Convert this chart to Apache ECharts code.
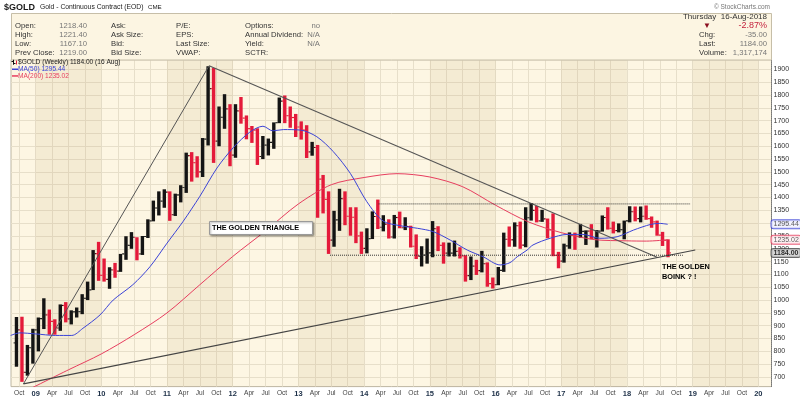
<!DOCTYPE html>
<html>
<head>
<meta charset="utf-8">
<script src="https://cdn.jsdelivr.net/npm/echarts@6.0.0/dist/echarts.min.js"></script>
<style>
html,body{margin:0;padding:0;background:#ffffff;}
#chart{width:800px;height:399px;}
</style>
</head>
<body>
<div id="chart"></div>
<script>
// ---------- DATA ----------
const months = [
 '2008-09','2008-10','2008-11','2008-12',
 '2009-01','2009-02','2009-03','2009-04','2009-05','2009-06','2009-07','2009-08','2009-09','2009-10','2009-11','2009-12',
 '2010-01','2010-02','2010-03','2010-04','2010-05','2010-06','2010-07','2010-08','2010-09','2010-10','2010-11','2010-12',
 '2011-01','2011-02','2011-03','2011-04','2011-05','2011-06','2011-07','2011-08','2011-09','2011-10','2011-11','2011-12',
 '2012-01','2012-02','2012-03','2012-04','2012-05','2012-06','2012-07','2012-08','2012-09','2012-10','2012-11','2012-12',
 '2013-01','2013-02','2013-03','2013-04','2013-05','2013-06','2013-07','2013-08','2013-09','2013-10','2013-11','2013-12',
 '2014-01','2014-02','2014-03','2014-04','2014-05','2014-06','2014-07','2014-08','2014-09','2014-10','2014-11','2014-12',
 '2015-01','2015-02','2015-03','2015-04','2015-05','2015-06','2015-07','2015-08','2015-09','2015-10','2015-11','2015-12',
 '2016-01','2016-02','2016-03','2016-04','2016-05','2016-06','2016-07','2016-08','2016-09','2016-10','2016-11','2016-12',
 '2017-01','2017-02','2017-03','2017-04','2017-05','2017-06','2017-07','2017-08','2017-09','2017-10','2017-11','2017-12',
 '2018-01','2018-02','2018-03','2018-04','2018-05','2018-06','2018-07','2018-08'
];
const opens = [
 833,884,718,814,
 884,928,942,917,891,979,927,954,955,1007,1040,1181,
 1096,1081,1118,1113,1180,1213,1245,1180,1248,1309,1359,1386,
 1421,1333,1410,1439,1563,1536,1500,1628,1825,1620,1713,1746,
 1565,1738,1710,1669,1663,1560,1604,1615,1692,1776,1719,1712,
 1675,1663,1578,1595,1472,1393,1234,1313,1396,1327,1323,1250,
 1202,1240,1326,1284,1296,1246,1322,1282,1287,1210,1171,1175,
 1184,1279,1213,1183,1183,1190,1172,1095,1132,1115,1142,1064,
 1060,1116,1237,1235,1290,1214,1321,1350,1309,1317,1274,1174,
 1152,1211,1253,1249,1268,1269,1242,1269,1322,1280,1271,1275,
 1309,1345,1318,1327,1318,1305,1253,1233
];
const highs = [
 934,935,825,888,
 932,1007,963,925,983,992,960,971,1023,1072,1195,1227,
 1162,1128,1145,1180,1249,1265,1245,1250,1315,1388,1424,1432,
 1424,1415,1448,1575,1577,1561,1632,1912,1905,1755,1803,1764,
 1764,1792,1720,1679,1670,1640,1630,1693,1790,1798,1755,1726,
 1697,1682,1617,1605,1488,1424,1348,1434,1424,1362,1362,1267,
 1280,1346,1392,1331,1315,1332,1345,1323,1290,1256,1210,1240,
 1308,1288,1225,1224,1232,1206,1175,1170,1157,1192,1147,1088,
 1129,1263,1287,1303,1306,1362,1378,1367,1352,1318,1338,1188,
 1220,1264,1263,1297,1272,1296,1273,1330,1362,1306,1299,1310,
 1366,1365,1365,1369,1326,1310,1266,1237
];
const lows = [
 740,681,705,752,
 800,887,865,865,880,913,905,932,945,1000,1039,1075,
 1072,1044,1087,1110,1157,1200,1155,1176,1242,1307,1330,1360,
 1309,1328,1381,1418,1462,1478,1480,1603,1535,1600,1668,1522,
 1555,1688,1627,1613,1527,1550,1564,1590,1690,1690,1672,1636,
 1626,1554,1563,1321,1338,1180,1208,1270,1292,1251,1222,1180,
 1182,1238,1277,1268,1240,1240,1280,1273,1205,1160,1131,1142,
 1167,1191,1142,1170,1170,1162,1072,1078,1098,1108,1052,1045,
 1058,1110,1208,1208,1200,1206,1310,1303,1305,1241,1171,1124,
 1146,1200,1196,1243,1215,1237,1205,1267,1275,1260,1264,1237,
 1303,1307,1303,1313,1282,1251,1211,1167
];
const closes = [
 884,718,814,884,
 928,942,917,891,979,927,954,955,1007,1040,1181,1096,
 1081,1118,1113,1180,1213,1245,1180,1248,1309,1359,1386,1421,
 1333,1410,1439,1563,1536,1500,1628,1825,1620,1713,1746,1565,
 1738,1710,1669,1663,1560,1604,1615,1692,1776,1719,1712,1675,
 1663,1578,1595,1472,1393,1234,1313,1396,1327,1323,1250,1202,
 1240,1326,1284,1296,1246,1322,1282,1287,1210,1171,1175,1184,
 1279,1213,1183,1183,1190,1172,1095,1132,1115,1142,1064,1060,
 1116,1237,1235,1290,1214,1321,1350,1309,1317,1274,1174,1152,
 1211,1253,1249,1268,1269,1242,1269,1322,1280,1271,1275,1309,
 1345,1318,1327,1318,1305,1253,1233,1184
];
// moving averages (decimal year, value)
const ma50Time = [2008.62,2008.76,2009.0,2009.3,2009.55,2009.72,2009.98,2010.18,2010.48,2010.74,2011.0,2011.24,2011.5,2011.76,2012.01,2012.26,2012.46,2012.61,2012.77,2013.03,2013.28,2013.53,2013.79,2014.04,2014.29,2014.55,2014.81,2015.05,2015.31,2015.57,2015.81,2016.07,2016.22,2016.33,2016.48,2016.57,2016.83,2017.09,2017.33,2017.59,2017.85,2018.1,2018.36,2018.5,2018.62];
const ma50Values = [862,872,868,862,862,890,942,1000,1060,1130,1222,1305,1405,1515,1595,1655,1678,1660,1665,1663,1637,1579,1494,1384,1308,1290,1280,1267,1234,1195,1169,1137,1146,1169,1195,1215,1241,1256,1256,1241,1247,1273,1295,1299,1295.44];
const ma200Time = [2008.94,2009.5,2010.0,2010.5,2011.0,2011.5,2012.0,2012.5,2013.0,2013.5,2014.0,2014.5,2015.0,2015.5,2016.0,2016.5,2017.0,2017.5,2018.0,2018.3,2018.62];
const ma200Values = [657,728,790,865,950,1060,1170,1270,1375,1450,1478,1493,1480,1442,1370,1305,1263,1236,1231,1230,1235.02];
// drawn trend lines and support/resistance levels
const triangleLeft  = [[2008.814, 673], [2011.64, 1914]];
const triangleTop   = [[2011.64, 1914], [2018.458, 1167]];
const triangleBase  = [[2008.814, 673], [2019.04, 1195]];
const resistance    = [[2014.22, 1375], [2018.97, 1375]];
const support       = [[2013.48, 1175], [2018.85, 1175]];
const shadedYears = [2009, 2011, 2013, 2015, 2017, 2019];
const monthLabels = ['', 'Apr', 'Jul', 'Oct'];

// ---------- CHART ----------
const FONT = '"Liberation Sans", Arial, Helvetica, sans-serif';
const chart = echarts.init(document.getElementById('chart'), null, {renderer: 'canvas', width: 800, height: 399});

function toT(m) { const p = m.split('-').map(Number); return p[0] + (p[1] - 0.5) / 12; }
const priceData = months.map((m, i) => [
  toT(m), opens[i], highs[i], lows[i], closes[i],
  (i === 0 ? closes[0] >= opens[0] : closes[i] >= closes[i - 1]) ? 1 : 0
]);
const lastClose = closes[closes.length - 1];
const lastMa50 = ma50Values[ma50Values.length - 1];
const lastMa200 = ma200Values[ma200Values.length - 1];

const UP = '#141414', DOWN = '#e41a3a';
function renderBar(params, api) {
  const t = api.value(0);
  const o = api.coord([t, api.value(1)]);
  const h = api.coord([t, api.value(2)]);
  const l = api.coord([t, api.value(3)]);
  const c = api.coord([t, api.value(4)]);
  const col = api.value(5) ? UP : DOWN;
  return {
    type: 'group',
    children: [
      {type: 'rect', shape: {x: h[0] - 1.7, y: h[1], width: 3.4, height: Math.max(1, l[1] - h[1])}, style: {fill: col}},
      {type: 'rect', shape: {x: o[0] - 2.8, y: o[0] ? o[1] - 0.6 : 0, width: 1.1, height: 1.2}, style: {fill: col}},
      {type: 'rect', shape: {x: c[0] + 1.7, y: c[1] - 0.6, width: 1.1, height: 1.2}, style: {fill: col}}
    ]
  };
}

function xLabel(v) {
  const e = Math.round(v * 8);
  if (Math.abs(v * 8 - e) > 1e-4 || e % 2 !== 0) return '';
  const Q = e / 2;
  const q = ((Q % 4) + 4) % 4;
  if (q === 0) { const yr = Math.floor(Q / 4) % 100; return '{y|' + (yr < 10 ? '0' : '') + yr + '}'; }
  return '{m|' + monthLabels[q] + '}';
}
function yLabel(v) {
  const r = Math.round(v);
  if (Math.abs(v - r) > 1e-6 || r % 50 !== 0 || r < 700 || r > 1900) return '';
  return String(r);
}

const GRID = '#e7dfca';
const T = 'rgba(0,0,0,0)';
const BLUE = '#3b43d6', RED = '#e63d5e';

function txt(x, y, text, opt) {
  opt = opt || {};
  return {
    type: 'text', x: x, y: y, z: 100, silent: true,
    style: {
      text: text, fill: opt.fill || '#333333', align: opt.align || 'left', verticalAlign: 'middle',
      font: (opt.weight || 'normal') + ' ' + (opt.size || 7.7) + 'px ' + FONT
    }
  };
}

const rows = [25.6, 34.6, 43.9, 53.0];
const graphics = [
  txt(4, 7.5, '$GOLD', {weight: 'bold', size: 9, fill: '#1a1a1a'}),
  txt(40, 7.5, 'Gold - Continuous Contract (EOD)', {size: 6.8, fill: '#222'}),
  txt(148, 7.5, 'CME', {size: 6.2, fill: '#222'}),
  txt(770, 7, '\u00a9 StockCharts.com', {align: 'right', size: 6.5, fill: '#777'}),
  {type: 'rect', z: 90, silent: true, shape: {x: 11.5, y: 13.5, width: 760, height: 46.5},
   style: {fill: '#fcf5e2', stroke: '#c6bea8', lineWidth: 1}},
  // column 1
  txt(15, rows[0], 'Open:'), txt(15, rows[1], 'High:'), txt(15, rows[2], 'Low:'), txt(15, rows[3], 'Prev Close:'),
  txt(87, rows[0], '1218.40', {align: 'right', fill: '#777'}),
  txt(87, rows[1], '1221.40', {align: 'right', fill: '#777'}),
  txt(87, rows[2], '1167.10', {align: 'right', fill: '#777'}),
  txt(87, rows[3], '1219.00', {align: 'right', fill: '#777'}),
  // column 2
  txt(111, rows[0], 'Ask:'), txt(111, rows[1], 'Ask Size:'), txt(111, rows[2], 'Bid:'), txt(111, rows[3], 'Bid Size:'),
  // column 3
  txt(176, rows[0], 'P/E:'), txt(176, rows[1], 'EPS:'), txt(176, rows[2], 'Last Size:'), txt(176, rows[3], 'VWAP:'),
  // column 4
  txt(245, rows[0], 'Options:'), txt(245, rows[1], 'Annual Dividend:'), txt(245, rows[2], 'Yield:'), txt(245, rows[3], 'SCTR:'),
  txt(320, rows[0], 'no', {align: 'right', fill: '#777'}),
  txt(320, rows[1], 'N/A', {align: 'right', fill: '#777'}),
  txt(320, rows[2], 'N/A', {align: 'right', fill: '#777'}),
  // right block
  txt(767, 16.6, 'Thursday  16-Aug-2018', {align: 'right', size: 8}),
  txt(703, 25.8, '\u25bc', {size: 8, fill: '#8b1020'}),
  txt(767, 25.8, '-2.87%', {align: 'right', size: 9, fill: '#c41f3b'}),
  txt(699, rows[1], 'Chg:'), txt(767, rows[1], '-35.00', {align: 'right', fill: '#777'}),
  txt(699, rows[2], 'Last:'), txt(767, rows[2], '1184.00', {align: 'right', fill: '#777'}),
  txt(699, rows[3], 'Volume:'), txt(767, rows[3], '1,317,174', {align: 'right', fill: '#777'}),
  // in-plot legend
  {type: 'rect', z: 100, silent: true, shape: {x: 13, y: 59.8, width: 1, height: 5}, style: {fill: '#111'}},
  {type: 'rect', z: 100, silent: true, shape: {x: 11.5, y: 61, width: 1.5, height: 1}, style: {fill: '#111'}},
  {type: 'rect', z: 100, silent: true, shape: {x: 14, y: 63, width: 1.5, height: 1}, style: {fill: '#111'}},
  {type: 'rect', z: 100, silent: true, shape: {x: 16, y: 60.5, width: 1, height: 4}, style: {fill: DOWN}},
  txt(18, 62.6, '$GOLD (Weekly) ' + lastClose.toFixed(2) + ' (16 Aug)', {size: 6.6, fill: '#222'}),
  {type: 'rect', z: 100, silent: true, shape: {x: 12, y: 68.5, width: 6, height: 1.5}, style: {fill: BLUE}},
  txt(18, 69.3, 'MA(50) ' + lastMa50.toFixed(2), {size: 6.6, fill: BLUE}),
  {type: 'rect', z: 100, silent: true, shape: {x: 12, y: 75.2, width: 6, height: 1.5}, style: {fill: RED}},
  txt(18, 76, 'MA(200) ' + lastMa200.toFixed(2), {size: 6.6, fill: RED}),
  // annotations
  {type: 'rect', z: 100, silent: true, shape: {x: 209.5, y: 221.5, width: 103, height: 13},
   style: {fill: '#ffffff', stroke: '#9a9a9a', lineWidth: 1, shadowBlur: 2, shadowOffsetX: 1, shadowOffsetY: 1, shadowColor: 'rgba(0,0,0,0.35)'}},
  txt(212, 228.2, 'THE GOLDEN TRIANGLE', {weight: 'bold', size: 7.3, fill: '#000'}),
  txt(662, 266.6, 'THE GOLDEN', {weight: 'bold', size: 7.3, fill: '#000'}),
  txt(662, 276.8, 'BOINK ? !', {weight: 'bold', size: 7.3, fill: '#000'})
];

function lineSeries(data, color, type, width) {
  return {
    type: 'line', data: data, showSymbol: false, symbol: 'none', silent: true, z: 4,
    lineStyle: {color: color, width: width || 1, type: type || 'solid'}, animation: false
  };
}
function tagSeries(value, style) {
  return {
    type: 'scatter', data: [[2020.2, value]], symbolSize: 0, silent: true, z: 20, clip: false,
    label: Object.assign({
      show: true, position: 'right', distance: 0, fontSize: 7, fontFamily: FONT,
      formatter: (p) => p.value[1].toFixed(2), padding: [1, 2, 0, 2], borderWidth: 1, borderRadius: 2
    }, style)
  };
}

const option = {
  animation: false,
  backgroundColor: '#ffffff',
  textStyle: {fontFamily: FONT},
  grid: {
    left: 11, right: 28.5, top: 59.7, bottom: 12.4, containLabel: false, outerBoundsMode: 'none',
    show: true, backgroundColor: '#fdf6e3', borderColor: '#bdb6a2', borderWidth: 1
  },
  xAxis: {
    type: 'value', min: 2008.625, max: 2020.2, interval: 0.125,
    axisLine: {show: false}, axisTick: {show: false},
    splitLine: {show: true, lineStyle: {color: [T, GRID], width: 1}},
    axisLabel: {
      margin: 3, formatter: xLabel, showMinLabel: true, showMaxLabel: false,
      rich: {
        y: {fontWeight: 'bold', fontSize: 7.5, color: '#1d3048', fontFamily: FONT},
        m: {fontSize: 6.6, color: '#444', fontFamily: FONT}
      }
    }
  },
  yAxis: {
    type: 'value', position: 'right', min: 662.5, max: 1937.5, interval: 12.5,
    axisLine: {show: true, lineStyle: {color: '#777', type: 'dotted', width: 1}},
    axisTick: {show: false},
    splitLine: {show: true, lineStyle: {color: [T, T, T, GRID], width: 1}},
    axisLabel: {margin: 2, fontSize: 7, color: '#333', formatter: yLabel, fontFamily: FONT}
  },
  graphic: graphics,
  series: [
    {
      type: 'custom', name: '$GOLD', data: priceData, renderItem: renderBar, z: 3, silent: true,
      encode: {x: 0, y: [1, 2, 3, 4]},
      markArea: {
        silent: true,
        itemStyle: {color: 'rgba(185,155,95,0.12)'},
        data: shadedYears.map(y => [{xAxis: y}, {xAxis: y + 1}])
      }
    },
    Object.assign(lineSeries(ma200Time.map((t, i) => [t, ma200Values[i]]), RED, 'solid', 1), {smooth: 0.3}),
    Object.assign(lineSeries(ma50Time.map((t, i) => [t, ma50Values[i]]), BLUE, 'solid', 1), {smooth: 0.3}),
    lineSeries(triangleLeft, '#555555', 'solid', 1),
    lineSeries(triangleTop, '#555555', 'solid', 1.1),
    lineSeries(triangleBase, '#444444', 'solid', 1.1),
    lineSeries(resistance, '#333333', 'dotted', 1),
    lineSeries(support, '#333333', 'dotted', 1),
    tagSeries(lastMa50, {color: '#333', backgroundColor: '#f0f0ff', borderColor: BLUE}),
    tagSeries(lastMa200, {color: '#333', backgroundColor: '#fff0f2', borderColor: RED}),
    tagSeries(lastClose, {color: '#000', fontWeight: 'bold', backgroundColor: '#c9c9c9', borderColor: '#444'})
  ]
};
chart.setOption(option);
</script>
</body>
</html>
